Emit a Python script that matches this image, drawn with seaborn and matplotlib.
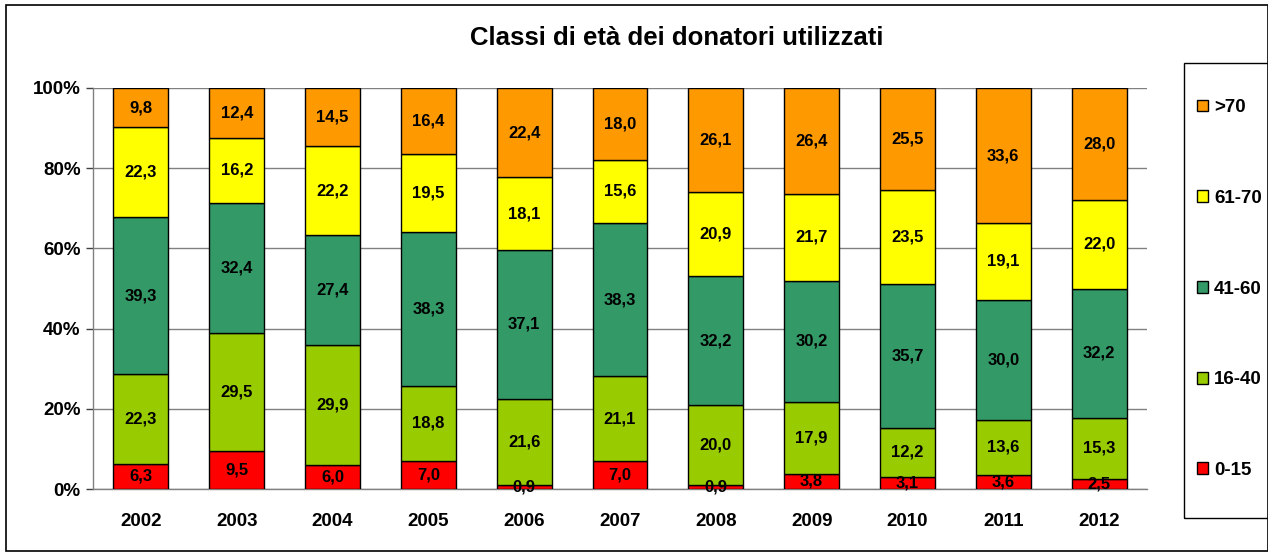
import numpy as np
import pandas as pd
import matplotlib.pyplot as plt
import seaborn as sns
from matplotlib.patches import Rectangle, Patch

sns.set_theme(style="white")
plt.rcParams['font.family'] = ['Liberation Sans', 'DejaVu Sans']
plt.rcParams['text.color'] = 'black'
plt.rcParams['xtick.color'] = 'black'
plt.rcParams['ytick.color'] = 'black'

# Data
years = ['2002', '2003', '2004', '2005', '2006', '2007', '2008', '2009', '2010', '2011', '2012']
classes = ['0-15', '16-40', '41-60', '61-70', '>70']
v_0_15 = [6.3, 9.5, 6.0, 7.0, 0.9, 7.0, 0.9, 3.8, 3.1, 3.6, 2.5]
v_16_40 = [22.3, 29.5, 29.9, 18.8, 21.6, 21.1, 20.0, 17.9, 12.2, 13.6, 15.3]
v_41_60 = [39.3, 32.4, 27.4, 38.3, 37.1, 38.3, 32.2, 30.2, 35.7, 30.0, 32.2]
v_61_70 = [22.3, 16.2, 22.2, 19.5, 18.1, 15.6, 20.9, 21.7, 23.5, 19.1, 22.0]
v_70 = [9.8, 12.4, 14.5, 16.4, 22.4, 18.0, 26.1, 26.4, 25.5, 33.6, 28.0]
colors = ['#FF0000', '#99CC00', '#339966', '#FFFF00', '#FF9900']

series = [v_0_15, v_16_40, v_41_60, v_61_70, v_70]

W, H = 1268, 553
fig = plt.figure(figsize=(W / 100, H / 100), dpi=100)
ax = fig.add_axes([93 / W, 1 - 489 / H, (1147 - 93) / W, (489 - 88) / H])

bottom = np.zeros(len(years))
for vals, col in zip(series, colors):
    vals = np.array(vals)
    sns.barplot(x=years, y=vals, bottom=bottom, color=col, width=0.574,
                edgecolor='black', linewidth=1, saturation=1, ax=ax, zorder=3)
    for i, (v, b) in enumerate(zip(vals, bottom)):
        ax.text(i, b + v / 2, f"{v:.1f}".replace('.', ','), ha='center', va='center',
                fontsize=12, fontweight='bold', color='black', zorder=5)
    bottom = bottom + vals

ax.set_ylim(0, 100)
ax.set_xlim(-0.5, len(years) - 0.5)
ax.set_yticks([0, 20, 40, 60, 80, 100])
ax.set_yticklabels(['0%', '20%', '40%', '60%', '80%', '100%'], fontsize=13.5, fontweight='bold')
ax.set_xticks(range(len(years)))
ax.set_xticklabels(years, fontsize=13.5, fontweight='bold')
ax.set_xticks(np.arange(-0.5, len(years), 1), minor=True)
ax.tick_params(axis='x', which='major', length=0, pad=17)
ax.tick_params(axis='x', which='minor', length=5, direction='out', color='#404040', width=1)
ax.tick_params(axis='y', length=5, direction='out', color='#404040', width=1, pad=4, left=True)
ax.yaxis.grid(True, color='#808080', linewidth=1, zorder=0)
ax.set_axisbelow(True)
for s in ['top', 'right']:
    ax.spines[s].set_visible(False)
for s in ['left', 'bottom']:
    ax.spines[s].set_color('#808080')
    ax.spines[s].set_linewidth(1)
ax.set_xlabel('')
ax.set_ylabel('')

fig.text(677 / W, 1 - 38 / H, 'Classi di età dei donatori utilizzati',
         ha='center', va='center', fontsize=18.5, fontweight='bold')

# legend frame drawn separately
fig.patches.append(Rectangle((1184 / W, 1 - 518 / H), (W + 5 - 1184) / W, (518 - 63) / H,
                             transform=fig.transFigure, fill=False, edgecolor='black',
                             linewidth=1))
handles = [Patch(facecolor=c, edgecolor='black', linewidth=1) for c in colors][::-1]
leg = fig.legend(handles, classes[::-1], loc='center left',
                 bbox_to_anchor=(1197 / W, 1 - 289 / H),
                 prop={'weight': 'bold', 'size': 13.5}, frameon=False,
                 labelspacing=3.93, handlelength=0.6, handleheight=0.6,
                 handletextpad=0.32, borderpad=0, borderaxespad=0)

fig.patches.append(Rectangle((6 / W, 2 / H), 1 - 6 / W, 1 - 7 / H,
                             transform=fig.transFigure, fill=False, edgecolor='black',
                             linewidth=1.2))

fig.savefig('out.png', dpi=100)
